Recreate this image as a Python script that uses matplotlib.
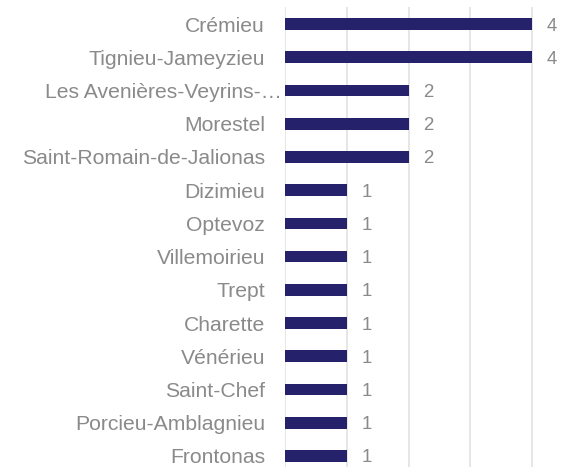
import matplotlib
matplotlib.use("Agg")
import matplotlib.pyplot as plt

communes = [
    "Crémieu",
    "Tignieu-Jameyzieu",
    "Les Avenières-Veyrins-…",
    "Morestel",
    "Saint-Romain-de-Jalionas",
    "Dizimieu",
    "Optevoz",
    "Villemoirieu",
    "Trept",
    "Charette",
    "Vénérieu",
    "Saint-Chef",
    "Porcieu-Amblagnieu",
    "Frontonas",
]
counts = [4, 4, 2, 2, 2, 1, 1, 1, 1, 1, 1, 1, 1, 1]
x_ticks = [0, 1, 2, 3, 4, 5]

BAR = "#26216B"
GRID = "#E2E2E2"
TEXT = "#8A8A8A"
FONT = "Liberation Sans"

fig = plt.figure(figsize=(5.8, 4.67), dpi=100)
ax = fig.add_axes([0.4922, -0.012, 0.5306, 0.9961])

pos = list(range(len(communes)))
ax.barh(pos, counts, height=0.35, color=BAR, zorder=3)

ax.set_xlim(0, 5)
ax.set_ylim(len(communes) - 0.5, -0.5)
ax.set_xticks(x_ticks)
ax.set_yticks([])
ax.tick_params(axis="x", length=0, labelbottom=False)
ax.grid(axis="x", color=GRID, linewidth=1.2, zorder=0)
for s in ax.spines.values():
    s.set_visible(False)

# category labels, right-aligned left of the axis
for i, name in enumerate(communes):
    off = -3.5 if name.endswith("…") else -20.5
    ax.annotate(name, xy=(0, i), xycoords=("axes fraction", "data"),
                xytext=(off, 0), textcoords="offset pixels",
                ha="right", va="center_baseline", fontsize=15.2,
                color=TEXT, family=FONT, annotation_clip=False)

# value labels at the end of each bar
for i, v in enumerate(counts):
    ax.annotate(str(v), xy=(v, i), xytext=(15, 0), textcoords="offset pixels",
                ha="left", va="center_baseline", fontsize=13.4,
                color=TEXT, family=FONT, annotation_clip=False)

fig.savefig("out.png", dpi=100)
